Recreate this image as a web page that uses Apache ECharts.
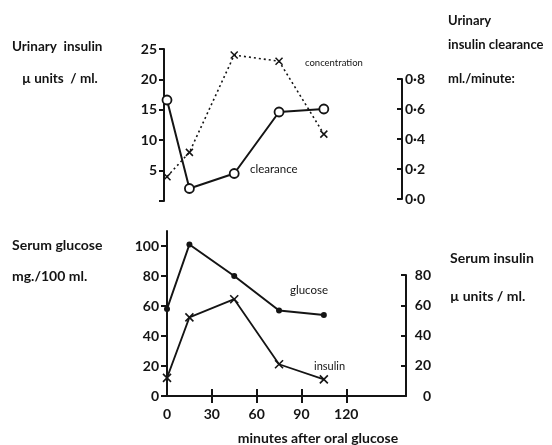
<!DOCTYPE html>
<html>
<head>
<meta charset="utf-8">
<script src="https://cdn.jsdelivr.net/npm/echarts@6/dist/echarts.min.js"></script>
<style>html,body{margin:0;padding:0;background:#fff}#c{width:552px;height:445px}</style>
</head>
<body>
<div id="c"></div>
<script>
const times = [0, 15, 45, 75, 105];
const concentration = [4, 8, 24, 23, 11];
const clearance = [0.66, 0.07, 0.17, 0.58, 0.60];
const glucose = [58, 101, 80, 57, 54];
const insulin = [12, 52, 64, 21, 11];
const xLabels = [0, 30, 60, 90, 120];
const xTickVals = [30, 60, 90, 120];
const concTicks = [0, 5, 10, 15, 20, 25];
const concLabels = [5, 10, 15, 20, 25];
const clearTicks = [0, 0.2, 0.4, 0.6, 0.8];
const glucoseTicks = [0, 20, 40, 60, 80, 100];
const insulinTicks = [0, 20, 40, 60, 80];

const INK = '#141414';
const FONT = 'Lato, "DejaVu Sans", sans-serif';
const pts = v => times.map((t, i) => [t, v[i]]);
const crossPath = 'path://M0,0L10,10M10,0L0,10';

const chart = echarts.init(document.getElementById('c'), null, {renderer: 'canvas'});

function hiddenX(gi) {
  return {type: 'value', gridIndex: gi, min: 0, max: 160, show: false};
}

const baseY = {
  type: 'value',
  splitLine: {show: false},
  axisLine: {show: true, onZero: false, lineStyle: {color: INK, width: 2}},
  axisTick: {show: true, length: 5, lineStyle: {color: INK, width: 2}},
  axisLabel: {color: INK, fontFamily: FONT, fontSize: 14, fontWeight: 'bold'}
};

const option = {
  backgroundColor: '#fff',
  animation: false,
  grid: [
    {left: 167, width: 239, top: 49, height: 152},
    {left: 167, width: 239, top: 79, height: 120},
    {left: 167, width: 239, top: 231, height: 165},
    {left: 167, width: 239, top: 275, height: 121}
  ],
  xAxis: [
    hiddenX(0),
    hiddenX(1),
    {
      type: 'value', gridIndex: 2, min: 0, max: 160,
      splitLine: {show: false},
      axisLine: {show: true, onZero: false, lineStyle: {color: INK, width: 2}},
      axisTick: {show: true, length: 7, customValues: xTickVals, lineStyle: {color: INK, width: 2}},
      axisLabel: {customValues: xLabels, color: INK, fontFamily: FONT, fontSize: 14, fontWeight: 'bold', margin: 11}
    },
    {
      type: 'value', gridIndex: 3, min: 0, max: 160,
      splitLine: {show: false},
      axisLine: {show: true, onZero: false, lineStyle: {color: 'rgba(0,0,0,0)', width: 0}},
      axisTick: {show: true, inside: true, length: 7, customValues: xTickVals, lineStyle: {color: INK, width: 2}},
      axisLabel: {show: false}
    }
  ],
  yAxis: [
    Object.assign({}, baseY, {
      gridIndex: 0, position: 'left', min: 0, max: 25, offset: 3,
      axisTick: Object.assign({}, baseY.axisTick, {customValues: concTicks}),
      axisLabel: Object.assign({}, baseY.axisLabel, {customValues: concLabels, margin: 7})
    }),
    Object.assign({}, baseY, {
      gridIndex: 1, position: 'right', min: 0, max: 0.8, offset: -4,
      axisTick: Object.assign({}, baseY.axisTick, {customValues: clearTicks, inside: true}),
      axisLabel: Object.assign({}, baseY.axisLabel, {customValues: clearTicks, margin: 3,
        formatter: v => v.toFixed(1).replace('.', '·')})
    }),
    Object.assign({}, baseY, {
      gridIndex: 2, position: 'left', min: 0, max: 110,
      axisTick: Object.assign({}, baseY.axisTick, {customValues: glucoseTicks, length: 6}),
      axisLabel: Object.assign({}, baseY.axisLabel, {customValues: glucoseTicks, margin: 8})
    }),
    Object.assign({}, baseY, {
      gridIndex: 3, position: 'right', min: 0, max: 80,
      axisTick: Object.assign({}, baseY.axisTick, {customValues: insulinTicks, inside: true}),
      axisLabel: Object.assign({}, baseY.axisLabel, {customValues: insulinTicks, margin: 25, align: 'right'})
    })
  ],
  series: [
    {
      name: 'concentration', type: 'line', xAxisIndex: 0, yAxisIndex: 0,
      data: pts(concentration),
      lineStyle: {color: INK, width: 1.6, type: [2, 3]},
      symbol: crossPath, symbolSize: 7,
      itemStyle: {color: 'none', borderColor: INK, borderWidth: 1.5}
    },
    {
      name: 'clearance', type: 'line', xAxisIndex: 1, yAxisIndex: 1,
      data: pts(clearance),
      lineStyle: {color: INK, width: 2},
      symbol: 'circle', symbolSize: 9,
      itemStyle: {color: '#fff', borderColor: INK, borderWidth: 1.8},
      z: 3
    },
    {
      name: 'glucose', type: 'line', xAxisIndex: 2, yAxisIndex: 2,
      data: pts(glucose),
      lineStyle: {color: INK, width: 2},
      symbol: 'circle', symbolSize: 6,
      itemStyle: {color: INK, borderColor: INK, borderWidth: 0}
    },
    {
      name: 'insulin', type: 'line', xAxisIndex: 3, yAxisIndex: 3,
      data: pts(insulin),
      lineStyle: {color: INK, width: 1.8},
      symbol: crossPath, symbolSize: 8,
      itemStyle: {color: 'none', borderColor: INK, borderWidth: 1.6}
    }
  ],
  graphic: [
    {type: 'text', style: {text: 'Urinary  insulin', x: 12, y: 47, font: 'bold 13.5px ' + FONT, fill: INK, textVerticalAlign: 'middle'}},
    {type: 'text', style: {text: 'µ units  / ml.', x: 22, y: 79, font: 'bold 13.5px ' + FONT, fill: INK, textVerticalAlign: 'middle'}},
    {type: 'text', style: {text: 'Urinary', x: 448, y: 21, font: 'bold 13px ' + FONT, fill: INK, textVerticalAlign: 'middle'}},
    {type: 'text', style: {text: 'insulin clearance', x: 448, y: 45, font: 'bold 13px ' + FONT, fill: INK, textVerticalAlign: 'middle'}},
    {type: 'text', style: {text: 'ml./minute:', x: 448, y: 79, font: 'bold 13px ' + FONT, fill: INK, textVerticalAlign: 'middle'}},
    {type: 'text', style: {text: 'concentration', x: 305, y: 63, font: '9.5px ' + FONT, fill: INK, textVerticalAlign: 'middle'}},
    {type: 'text', style: {text: 'clearance', x: 250, y: 169, font: '11.5px ' + FONT, fill: INK, textVerticalAlign: 'middle'}},
    {type: 'text', style: {text: 'Serum glucose', x: 12, y: 245, font: 'bold 14px ' + FONT, fill: INK, textVerticalAlign: 'middle'}},
    {type: 'text', style: {text: 'mg./100 ml.', x: 12, y: 276, font: 'bold 14px ' + FONT, fill: INK, textVerticalAlign: 'middle'}},
    {type: 'text', style: {text: 'glucose', x: 290, y: 290, font: '11.5px ' + FONT, fill: INK, textVerticalAlign: 'middle'}},
    {type: 'text', style: {text: 'insulin', x: 314, y: 366, font: '11px ' + FONT, fill: INK, textVerticalAlign: 'middle'}},
    {type: 'text', style: {text: 'Serum insulin', x: 450, y: 258, font: 'bold 14px ' + FONT, fill: INK, textVerticalAlign: 'middle'}},
    {type: 'text', style: {text: 'µ units / ml.', x: 450, y: 296, font: 'bold 14px ' + FONT, fill: INK, textVerticalAlign: 'middle'}},
    {type: 'text', style: {text: 'minutes after oral glucose', x: 318, y: 438, font: 'bold 14px ' + FONT, fill: INK, textAlign: 'center', textVerticalAlign: 'middle'}}
  ]
};
chart.setOption(option);
</script>
</body>
</html>
